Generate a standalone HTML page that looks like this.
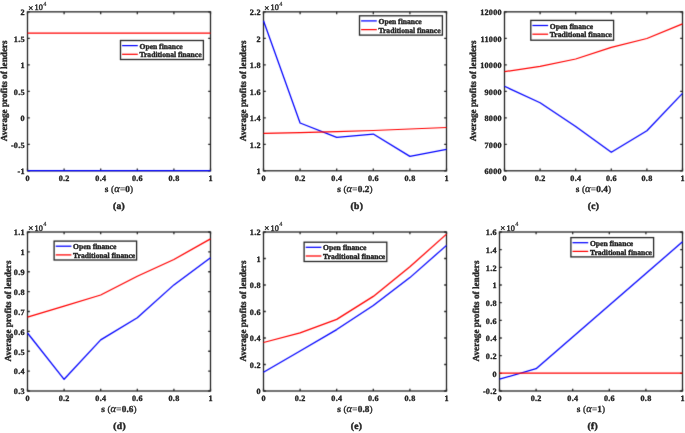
<!DOCTYPE html>
<html><head><meta charset="utf-8"><style>
html,body{margin:0;padding:0;background:#fff;}
svg{display:block;font-family:"Liberation Serif", serif;will-change:transform;text-rendering:geometricPrecision;}
text{fill:#262626;stroke:#262626;stroke-width:0.35px;}
</style></head><body>
<svg width="685" height="433" viewBox="0 0 685 433">
<rect width="685" height="433" fill="#fff"/>
<defs><filter id="sm" x="0" y="0" width="685" height="433" filterUnits="userSpaceOnUse" color-interpolation-filters="sRGB"><feConvolveMatrix order="3" kernelMatrix="0 0.1 0 0.1 0.600 0.1 0 0.1 0" edgeMode="none" preserveAlpha="false"/></filter></defs>
<g filter="url(#sm)">
<rect x="27.5" y="11.85" width="183.00" height="158.95" fill="none" stroke="#262626" stroke-width="1.3"/>
<path d="M27.50,170.8v-2.3M27.50,11.85v2.3M64.10,170.8v-2.3M64.10,11.85v2.3M100.70,170.8v-2.3M100.70,11.85v2.3M137.30,170.8v-2.3M137.30,11.85v2.3M173.90,170.8v-2.3M173.90,11.85v2.3M210.50,170.8v-2.3M210.50,11.85v2.3M27.5,170.80h2.3M210.5,170.80h-2.3M27.5,144.31h2.3M210.5,144.31h-2.3M27.5,117.82h2.3M210.5,117.82h-2.3M27.5,91.33h2.3M210.5,91.33h-2.3M27.5,64.83h2.3M210.5,64.83h-2.3M27.5,38.34h2.3M210.5,38.34h-2.3M27.5,11.85h2.3M210.5,11.85h-2.3" stroke="#262626" stroke-width="1.3" fill="none"/>
<polyline points="27.50,170.70 64.10,170.70 100.70,170.70 137.30,170.70 173.90,170.70 210.50,170.70" fill="none" stroke="#0000ff" stroke-width="1.25" stroke-linejoin="round"/>
<polyline points="27.50,33.00 64.10,33.00 100.70,33.00 137.30,33.00 173.90,33.00 210.50,33.00" fill="none" stroke="#ff0000" stroke-width="1.25" stroke-linejoin="round"/>
<rect x="120.5" y="40.5" width="82.90" height="19.00" fill="#fff" stroke="#262626" stroke-width="1.3"/>
<path d="M122.10,45.60H137.80" stroke="#0000ff" stroke-width="1.25"/>
<path d="M122.10,54.30H137.80" stroke="#ff0000" stroke-width="1.25"/>
<rect x="263.5" y="11.85" width="183.00" height="158.95" fill="none" stroke="#262626" stroke-width="1.3"/>
<path d="M263.50,170.8v-2.3M263.50,11.85v2.3M300.10,170.8v-2.3M300.10,11.85v2.3M336.70,170.8v-2.3M336.70,11.85v2.3M373.30,170.8v-2.3M373.30,11.85v2.3M409.90,170.8v-2.3M409.90,11.85v2.3M446.50,170.8v-2.3M446.50,11.85v2.3M263.5,170.80h2.3M446.5,170.80h-2.3M263.5,144.31h2.3M446.5,144.31h-2.3M263.5,117.82h2.3M446.5,117.82h-2.3M263.5,91.33h2.3M446.5,91.33h-2.3M263.5,64.83h2.3M446.5,64.83h-2.3M263.5,38.34h2.3M446.5,38.34h-2.3M263.5,11.85h2.3M446.5,11.85h-2.3" stroke="#262626" stroke-width="1.3" fill="none"/>
<polyline points="263.50,20.80 300.10,123.00 336.70,137.30 373.30,134.05 409.90,156.40 446.50,149.40" fill="none" stroke="#0000ff" stroke-width="1.25" stroke-linejoin="round"/>
<polyline points="263.50,133.30 300.10,132.60 336.70,131.70 373.30,130.50 409.90,129.00 446.50,127.50" fill="none" stroke="#ff0000" stroke-width="1.25" stroke-linejoin="round"/>
<rect x="359.5" y="15.8" width="82.90" height="19.30" fill="#fff" stroke="#262626" stroke-width="1.3"/>
<path d="M361.10,20.90H376.80" stroke="#0000ff" stroke-width="1.25"/>
<path d="M361.10,29.60H376.80" stroke="#ff0000" stroke-width="1.25"/>
<rect x="504.5" y="11.85" width="178.00" height="158.95" fill="none" stroke="#262626" stroke-width="1.3"/>
<path d="M504.50,170.8v-2.3M504.50,11.85v2.3M540.10,170.8v-2.3M540.10,11.85v2.3M575.70,170.8v-2.3M575.70,11.85v2.3M611.30,170.8v-2.3M611.30,11.85v2.3M646.90,170.8v-2.3M646.90,11.85v2.3M682.50,170.8v-2.3M682.50,11.85v2.3M504.5,170.80h2.3M682.5,170.80h-2.3M504.5,144.31h2.3M682.5,144.31h-2.3M504.5,117.82h2.3M682.5,117.82h-2.3M504.5,91.33h2.3M682.5,91.33h-2.3M504.5,64.83h2.3M682.5,64.83h-2.3M504.5,38.34h2.3M682.5,38.34h-2.3M504.5,11.85h2.3M682.5,11.85h-2.3" stroke="#262626" stroke-width="1.3" fill="none"/>
<polyline points="504.50,86.30 540.10,102.80 575.70,126.50 611.30,152.30 646.90,130.70 682.50,93.40" fill="none" stroke="#0000ff" stroke-width="1.25" stroke-linejoin="round"/>
<polyline points="504.50,71.70 540.10,66.30 575.70,59.00 611.30,47.40 646.90,38.50 682.50,23.90" fill="none" stroke="#ff0000" stroke-width="1.25" stroke-linejoin="round"/>
<rect x="530.8" y="20.4" width="82.80" height="19.80" fill="#fff" stroke="#262626" stroke-width="1.3"/>
<path d="M532.40,25.50H548.10" stroke="#0000ff" stroke-width="1.25"/>
<path d="M532.40,34.20H548.10" stroke="#ff0000" stroke-width="1.25"/>
<rect x="27.5" y="232.0" width="183.00" height="159.00" fill="none" stroke="#262626" stroke-width="1.3"/>
<path d="M27.50,391.0v-2.3M27.50,232.0v2.3M64.10,391.0v-2.3M64.10,232.0v2.3M100.70,391.0v-2.3M100.70,232.0v2.3M137.30,391.0v-2.3M137.30,232.0v2.3M173.90,391.0v-2.3M173.90,232.0v2.3M210.50,391.0v-2.3M210.50,232.0v2.3M27.5,391.00h2.3M210.5,391.00h-2.3M27.5,371.12h2.3M210.5,371.12h-2.3M27.5,351.25h2.3M210.5,351.25h-2.3M27.5,331.38h2.3M210.5,331.38h-2.3M27.5,311.50h2.3M210.5,311.50h-2.3M27.5,291.62h2.3M210.5,291.62h-2.3M27.5,271.75h2.3M210.5,271.75h-2.3M27.5,251.88h2.3M210.5,251.88h-2.3M27.5,232.00h2.3M210.5,232.00h-2.3" stroke="#262626" stroke-width="1.3" fill="none"/>
<polyline points="27.50,333.00 64.10,379.30 100.70,339.90 137.30,317.70 173.90,284.90 210.50,257.70" fill="none" stroke="#0000ff" stroke-width="1.25" stroke-linejoin="round"/>
<polyline points="27.50,317.20 64.10,306.10 100.70,295.00 137.30,276.30 173.90,259.50 210.50,238.90" fill="none" stroke="#ff0000" stroke-width="1.25" stroke-linejoin="round"/>
<rect x="54.1" y="241.1" width="82.50" height="18.90" fill="#fff" stroke="#262626" stroke-width="1.3"/>
<path d="M55.70,246.20H71.40" stroke="#0000ff" stroke-width="1.25"/>
<path d="M55.70,254.90H71.40" stroke="#ff0000" stroke-width="1.25"/>
<rect x="263.5" y="232.0" width="183.00" height="159.00" fill="none" stroke="#262626" stroke-width="1.3"/>
<path d="M263.50,391.0v-2.3M263.50,232.0v2.3M300.10,391.0v-2.3M300.10,232.0v2.3M336.70,391.0v-2.3M336.70,232.0v2.3M373.30,391.0v-2.3M373.30,232.0v2.3M409.90,391.0v-2.3M409.90,232.0v2.3M446.50,391.0v-2.3M446.50,232.0v2.3M263.5,391.00h2.3M446.5,391.00h-2.3M263.5,364.50h2.3M446.5,364.50h-2.3M263.5,338.00h2.3M446.5,338.00h-2.3M263.5,311.50h2.3M446.5,311.50h-2.3M263.5,285.00h2.3M446.5,285.00h-2.3M263.5,258.50h2.3M446.5,258.50h-2.3M263.5,232.00h2.3M446.5,232.00h-2.3" stroke="#262626" stroke-width="1.3" fill="none"/>
<polyline points="263.50,372.30 300.10,351.00 336.70,329.60 373.30,305.50 409.90,277.60 446.50,245.40" fill="none" stroke="#0000ff" stroke-width="1.25" stroke-linejoin="round"/>
<polyline points="263.50,342.50 300.10,332.90 336.70,319.40 373.30,296.40 409.90,266.80 446.50,234.10" fill="none" stroke="#ff0000" stroke-width="1.25" stroke-linejoin="round"/>
<rect x="304.1" y="242.2" width="82.70" height="19.30" fill="#fff" stroke="#262626" stroke-width="1.3"/>
<path d="M305.70,247.30H321.40" stroke="#0000ff" stroke-width="1.25"/>
<path d="M305.70,256.00H321.40" stroke="#ff0000" stroke-width="1.25"/>
<rect x="499.5" y="232.0" width="183.00" height="159.00" fill="none" stroke="#262626" stroke-width="1.3"/>
<path d="M499.50,391.0v-2.3M499.50,232.0v2.3M536.10,391.0v-2.3M536.10,232.0v2.3M572.70,391.0v-2.3M572.70,232.0v2.3M609.30,391.0v-2.3M609.30,232.0v2.3M645.90,391.0v-2.3M645.90,232.0v2.3M682.50,391.0v-2.3M682.50,232.0v2.3M499.5,391.00h2.3M682.5,391.00h-2.3M499.5,373.33h2.3M682.5,373.33h-2.3M499.5,355.67h2.3M682.5,355.67h-2.3M499.5,338.00h2.3M682.5,338.00h-2.3M499.5,320.33h2.3M682.5,320.33h-2.3M499.5,302.67h2.3M682.5,302.67h-2.3M499.5,285.00h2.3M682.5,285.00h-2.3M499.5,267.33h2.3M682.5,267.33h-2.3M499.5,249.67h2.3M682.5,249.67h-2.3M499.5,232.00h2.3M682.5,232.00h-2.3" stroke="#262626" stroke-width="1.3" fill="none"/>
<polyline points="499.50,379.20 536.10,368.70 572.70,337.00 609.30,305.30 645.90,273.50 682.50,241.80" fill="none" stroke="#0000ff" stroke-width="1.25" stroke-linejoin="round"/>
<polyline points="499.50,373.20 536.10,373.20 572.70,373.20 609.30,373.20 645.90,373.20 682.50,373.20" fill="none" stroke="#ff0000" stroke-width="1.25" stroke-linejoin="round"/>
<rect x="570.9" y="237.6" width="82.70" height="19.30" fill="#fff" stroke="#262626" stroke-width="1.3"/>
<path d="M572.50,242.70H588.20" stroke="#0000ff" stroke-width="1.25"/>
<path d="M572.50,251.40H588.20" stroke="#ff0000" stroke-width="1.25"/>
</g>
<text x="27.62" y="181.20" font-size="8.2" text-anchor="middle" font-weight="bold" letter-spacing="0.25">0</text>
<text x="64.22" y="181.20" font-size="8.2" text-anchor="middle" font-weight="bold" letter-spacing="0.25">0.2</text>
<text x="100.82" y="181.20" font-size="8.2" text-anchor="middle" font-weight="bold" letter-spacing="0.25">0.4</text>
<text x="137.42" y="181.20" font-size="8.2" text-anchor="middle" font-weight="bold" letter-spacing="0.25">0.6</text>
<text x="174.02" y="181.20" font-size="8.2" text-anchor="middle" font-weight="bold" letter-spacing="0.25">0.8</text>
<text x="210.62" y="181.20" font-size="8.2" text-anchor="middle" font-weight="bold" letter-spacing="0.25">1</text>
<text x="24.85" y="174.10" font-size="8.2" text-anchor="end" font-weight="bold" letter-spacing="0.25">-1</text>
<text x="24.85" y="147.61" font-size="8.2" text-anchor="end" font-weight="bold" letter-spacing="0.25">-0.5</text>
<text x="24.85" y="121.12" font-size="8.2" text-anchor="end" font-weight="bold" letter-spacing="0.25">0</text>
<text x="24.85" y="94.62" font-size="8.2" text-anchor="end" font-weight="bold" letter-spacing="0.25">0.5</text>
<text x="24.85" y="68.13" font-size="8.2" text-anchor="end" font-weight="bold" letter-spacing="0.25">1</text>
<text x="24.85" y="41.64" font-size="8.2" text-anchor="end" font-weight="bold" letter-spacing="0.25">1.5</text>
<text x="24.85" y="15.15" font-size="8.2" text-anchor="end" font-weight="bold" letter-spacing="0.25">2</text>
<text x="28.20" y="10.65" font-size="8.9" font-weight="normal" style="stroke-width:0.45px">×</text>
<text x="34.50" y="10.45" font-size="8.3" font-weight="normal" style="stroke-width:0.45px">10</text>
<text x="43.30" y="5.95" font-size="6.2" font-weight="normal" style="stroke-width:0.15px">4</text>
<text transform="translate(7.00,90.83) rotate(-90)" x="0" y="0" font-size="9.2" text-anchor="middle" font-weight="bold">Average profits of lenders</text>
<text x="119.00" y="192.20" font-size="9.2" text-anchor="middle" font-weight="bold" letter-spacing="0.15">s <tspan font-weight="normal">(</tspan><tspan font-style="italic" font-weight="normal" font-size="10.6">α</tspan><tspan font-weight="normal" style="stroke-width:0.2px">=</tspan>0<tspan font-weight="normal">)</tspan></text>
<text x="119.10" y="208.50" font-size="9.5" text-anchor="middle" font-weight="bold" letter-spacing="0.3" style="stroke-width:0.5px">(a)</text>
<text x="139.50" y="48.70" font-size="7.6" text-anchor="start" font-weight="bold" style="stroke-width:0.4px">Open finance</text>
<text x="139.50" y="57.45" font-size="7.6" text-anchor="start" font-weight="bold" style="stroke-width:0.4px">Traditional finance</text>
<text x="263.62" y="181.20" font-size="8.2" text-anchor="middle" font-weight="bold" letter-spacing="0.25">0</text>
<text x="300.22" y="181.20" font-size="8.2" text-anchor="middle" font-weight="bold" letter-spacing="0.25">0.2</text>
<text x="336.82" y="181.20" font-size="8.2" text-anchor="middle" font-weight="bold" letter-spacing="0.25">0.4</text>
<text x="373.42" y="181.20" font-size="8.2" text-anchor="middle" font-weight="bold" letter-spacing="0.25">0.6</text>
<text x="410.02" y="181.20" font-size="8.2" text-anchor="middle" font-weight="bold" letter-spacing="0.25">0.8</text>
<text x="446.62" y="181.20" font-size="8.2" text-anchor="middle" font-weight="bold" letter-spacing="0.25">1</text>
<text x="260.85" y="174.10" font-size="8.2" text-anchor="end" font-weight="bold" letter-spacing="0.25">1</text>
<text x="260.85" y="147.61" font-size="8.2" text-anchor="end" font-weight="bold" letter-spacing="0.25">1.2</text>
<text x="260.85" y="121.12" font-size="8.2" text-anchor="end" font-weight="bold" letter-spacing="0.25">1.4</text>
<text x="260.85" y="94.62" font-size="8.2" text-anchor="end" font-weight="bold" letter-spacing="0.25">1.6</text>
<text x="260.85" y="68.13" font-size="8.2" text-anchor="end" font-weight="bold" letter-spacing="0.25">1.8</text>
<text x="260.85" y="41.64" font-size="8.2" text-anchor="end" font-weight="bold" letter-spacing="0.25">2</text>
<text x="260.85" y="15.15" font-size="8.2" text-anchor="end" font-weight="bold" letter-spacing="0.25">2.2</text>
<text x="264.20" y="10.65" font-size="8.9" font-weight="normal" style="stroke-width:0.45px">×</text>
<text x="270.50" y="10.45" font-size="8.3" font-weight="normal" style="stroke-width:0.45px">10</text>
<text x="279.30" y="5.95" font-size="6.2" font-weight="normal" style="stroke-width:0.15px">4</text>
<text transform="translate(246.40,90.83) rotate(-90)" x="0" y="0" font-size="9.2" text-anchor="middle" font-weight="bold">Average profits of lenders</text>
<text x="355.00" y="192.20" font-size="9.2" text-anchor="middle" font-weight="bold" letter-spacing="0.15">s <tspan font-weight="normal">(</tspan><tspan font-style="italic" font-weight="normal" font-size="10.6">α</tspan><tspan font-weight="normal" style="stroke-width:0.2px">=</tspan>0.2<tspan font-weight="normal">)</tspan></text>
<text x="356.85" y="208.50" font-size="9.5" text-anchor="middle" font-weight="bold" letter-spacing="0.3" style="stroke-width:0.5px">(b)</text>
<text x="378.50" y="24.00" font-size="7.6" text-anchor="start" font-weight="bold" style="stroke-width:0.4px">Open finance</text>
<text x="378.50" y="32.75" font-size="7.6" text-anchor="start" font-weight="bold" style="stroke-width:0.4px">Traditional finance</text>
<text x="504.62" y="181.20" font-size="8.2" text-anchor="middle" font-weight="bold" letter-spacing="0.25">0</text>
<text x="540.22" y="181.20" font-size="8.2" text-anchor="middle" font-weight="bold" letter-spacing="0.25">0.2</text>
<text x="575.82" y="181.20" font-size="8.2" text-anchor="middle" font-weight="bold" letter-spacing="0.25">0.4</text>
<text x="611.42" y="181.20" font-size="8.2" text-anchor="middle" font-weight="bold" letter-spacing="0.25">0.6</text>
<text x="647.02" y="181.20" font-size="8.2" text-anchor="middle" font-weight="bold" letter-spacing="0.25">0.8</text>
<text x="682.62" y="181.20" font-size="8.2" text-anchor="middle" font-weight="bold" letter-spacing="0.25">1</text>
<text x="501.85" y="174.10" font-size="8.2" text-anchor="end" font-weight="bold" letter-spacing="0.25">6000</text>
<text x="501.85" y="147.61" font-size="8.2" text-anchor="end" font-weight="bold" letter-spacing="0.25">7000</text>
<text x="501.85" y="121.12" font-size="8.2" text-anchor="end" font-weight="bold" letter-spacing="0.25">8000</text>
<text x="501.85" y="94.62" font-size="8.2" text-anchor="end" font-weight="bold" letter-spacing="0.25">9000</text>
<text x="501.85" y="68.13" font-size="8.2" text-anchor="end" font-weight="bold" letter-spacing="0.25">10000</text>
<text x="501.85" y="41.64" font-size="8.2" text-anchor="end" font-weight="bold" letter-spacing="0.25">11000</text>
<text x="501.85" y="15.15" font-size="8.2" text-anchor="end" font-weight="bold" letter-spacing="0.25">12000</text>
<text transform="translate(475.60,90.83) rotate(-90)" x="0" y="0" font-size="9.2" text-anchor="middle" font-weight="bold">Average profits of lenders</text>
<text x="593.50" y="192.20" font-size="9.2" text-anchor="middle" font-weight="bold" letter-spacing="0.15">s <tspan font-weight="normal">(</tspan><tspan font-style="italic" font-weight="normal" font-size="10.6">α</tspan><tspan font-weight="normal" style="stroke-width:0.2px">=</tspan>0.4<tspan font-weight="normal">)</tspan></text>
<text x="593.60" y="208.50" font-size="9.5" text-anchor="middle" font-weight="bold" letter-spacing="0.3" style="stroke-width:0.5px">(c)</text>
<text x="549.80" y="28.60" font-size="7.6" text-anchor="start" font-weight="bold" style="stroke-width:0.4px">Open finance</text>
<text x="549.80" y="37.35" font-size="7.6" text-anchor="start" font-weight="bold" style="stroke-width:0.4px">Traditional finance</text>
<text x="27.62" y="401.40" font-size="8.2" text-anchor="middle" font-weight="bold" letter-spacing="0.25">0</text>
<text x="64.22" y="401.40" font-size="8.2" text-anchor="middle" font-weight="bold" letter-spacing="0.25">0.2</text>
<text x="100.82" y="401.40" font-size="8.2" text-anchor="middle" font-weight="bold" letter-spacing="0.25">0.4</text>
<text x="137.42" y="401.40" font-size="8.2" text-anchor="middle" font-weight="bold" letter-spacing="0.25">0.6</text>
<text x="174.02" y="401.40" font-size="8.2" text-anchor="middle" font-weight="bold" letter-spacing="0.25">0.8</text>
<text x="210.62" y="401.40" font-size="8.2" text-anchor="middle" font-weight="bold" letter-spacing="0.25">1</text>
<text x="24.85" y="394.30" font-size="8.2" text-anchor="end" font-weight="bold" letter-spacing="0.25">0.3</text>
<text x="24.85" y="374.43" font-size="8.2" text-anchor="end" font-weight="bold" letter-spacing="0.25">0.4</text>
<text x="24.85" y="354.55" font-size="8.2" text-anchor="end" font-weight="bold" letter-spacing="0.25">0.5</text>
<text x="24.85" y="334.68" font-size="8.2" text-anchor="end" font-weight="bold" letter-spacing="0.25">0.6</text>
<text x="24.85" y="314.80" font-size="8.2" text-anchor="end" font-weight="bold" letter-spacing="0.25">0.7</text>
<text x="24.85" y="294.93" font-size="8.2" text-anchor="end" font-weight="bold" letter-spacing="0.25">0.8</text>
<text x="24.85" y="275.05" font-size="8.2" text-anchor="end" font-weight="bold" letter-spacing="0.25">0.9</text>
<text x="24.85" y="255.18" font-size="8.2" text-anchor="end" font-weight="bold" letter-spacing="0.25">1</text>
<text x="24.85" y="235.30" font-size="8.2" text-anchor="end" font-weight="bold" letter-spacing="0.25">1.1</text>
<text x="28.20" y="230.80" font-size="8.9" font-weight="normal" style="stroke-width:0.45px">×</text>
<text x="34.50" y="230.60" font-size="8.3" font-weight="normal" style="stroke-width:0.45px">10</text>
<text x="43.30" y="226.10" font-size="6.2" font-weight="normal" style="stroke-width:0.15px">4</text>
<text transform="translate(11.00,311.00) rotate(-90)" x="0" y="0" font-size="9.2" text-anchor="middle" font-weight="bold">Average profits of lenders</text>
<text x="119.00" y="412.40" font-size="9.2" text-anchor="middle" font-weight="bold" letter-spacing="0.15">s <tspan font-weight="normal">(</tspan><tspan font-style="italic" font-weight="normal" font-size="10.6">α</tspan><tspan font-weight="normal" style="stroke-width:0.2px">=</tspan>0.6<tspan font-weight="normal">)</tspan></text>
<text x="119.60" y="428.70" font-size="9.5" text-anchor="middle" font-weight="bold" letter-spacing="0.3" style="stroke-width:0.5px">(d)</text>
<text x="73.10" y="249.30" font-size="7.6" text-anchor="start" font-weight="bold" style="stroke-width:0.4px">Open finance</text>
<text x="73.10" y="258.05" font-size="7.6" text-anchor="start" font-weight="bold" style="stroke-width:0.4px">Traditional finance</text>
<text x="263.62" y="401.40" font-size="8.2" text-anchor="middle" font-weight="bold" letter-spacing="0.25">0</text>
<text x="300.22" y="401.40" font-size="8.2" text-anchor="middle" font-weight="bold" letter-spacing="0.25">0.2</text>
<text x="336.82" y="401.40" font-size="8.2" text-anchor="middle" font-weight="bold" letter-spacing="0.25">0.4</text>
<text x="373.42" y="401.40" font-size="8.2" text-anchor="middle" font-weight="bold" letter-spacing="0.25">0.6</text>
<text x="410.02" y="401.40" font-size="8.2" text-anchor="middle" font-weight="bold" letter-spacing="0.25">0.8</text>
<text x="446.62" y="401.40" font-size="8.2" text-anchor="middle" font-weight="bold" letter-spacing="0.25">1</text>
<text x="260.85" y="394.30" font-size="8.2" text-anchor="end" font-weight="bold" letter-spacing="0.25">0</text>
<text x="260.85" y="367.80" font-size="8.2" text-anchor="end" font-weight="bold" letter-spacing="0.25">0.2</text>
<text x="260.85" y="341.30" font-size="8.2" text-anchor="end" font-weight="bold" letter-spacing="0.25">0.4</text>
<text x="260.85" y="314.80" font-size="8.2" text-anchor="end" font-weight="bold" letter-spacing="0.25">0.6</text>
<text x="260.85" y="288.30" font-size="8.2" text-anchor="end" font-weight="bold" letter-spacing="0.25">0.8</text>
<text x="260.85" y="261.80" font-size="8.2" text-anchor="end" font-weight="bold" letter-spacing="0.25">1</text>
<text x="260.85" y="235.30" font-size="8.2" text-anchor="end" font-weight="bold" letter-spacing="0.25">1.2</text>
<text x="264.20" y="230.80" font-size="8.9" font-weight="normal" style="stroke-width:0.45px">×</text>
<text x="270.50" y="230.60" font-size="8.3" font-weight="normal" style="stroke-width:0.45px">10</text>
<text x="279.30" y="226.10" font-size="6.2" font-weight="normal" style="stroke-width:0.15px">4</text>
<text transform="translate(245.60,311.00) rotate(-90)" x="0" y="0" font-size="9.2" text-anchor="middle" font-weight="bold">Average profits of lenders</text>
<text x="355.00" y="412.40" font-size="9.2" text-anchor="middle" font-weight="bold" letter-spacing="0.15">s <tspan font-weight="normal">(</tspan><tspan font-style="italic" font-weight="normal" font-size="10.6">α</tspan><tspan font-weight="normal" style="stroke-width:0.2px">=</tspan>0.8<tspan font-weight="normal">)</tspan></text>
<text x="356.60" y="428.70" font-size="9.5" text-anchor="middle" font-weight="bold" letter-spacing="0.3" style="stroke-width:0.5px">(e)</text>
<text x="323.10" y="250.40" font-size="7.6" text-anchor="start" font-weight="bold" style="stroke-width:0.4px">Open finance</text>
<text x="323.10" y="259.15" font-size="7.6" text-anchor="start" font-weight="bold" style="stroke-width:0.4px">Traditional finance</text>
<text x="499.62" y="401.40" font-size="8.2" text-anchor="middle" font-weight="bold" letter-spacing="0.25">0</text>
<text x="536.22" y="401.40" font-size="8.2" text-anchor="middle" font-weight="bold" letter-spacing="0.25">0.2</text>
<text x="572.82" y="401.40" font-size="8.2" text-anchor="middle" font-weight="bold" letter-spacing="0.25">0.4</text>
<text x="609.42" y="401.40" font-size="8.2" text-anchor="middle" font-weight="bold" letter-spacing="0.25">0.6</text>
<text x="646.02" y="401.40" font-size="8.2" text-anchor="middle" font-weight="bold" letter-spacing="0.25">0.8</text>
<text x="682.62" y="401.40" font-size="8.2" text-anchor="middle" font-weight="bold" letter-spacing="0.25">1</text>
<text x="496.85" y="394.30" font-size="8.2" text-anchor="end" font-weight="bold" letter-spacing="0.25">-0.2</text>
<text x="496.85" y="376.63" font-size="8.2" text-anchor="end" font-weight="bold" letter-spacing="0.25">0</text>
<text x="496.85" y="358.97" font-size="8.2" text-anchor="end" font-weight="bold" letter-spacing="0.25">0.2</text>
<text x="496.85" y="341.30" font-size="8.2" text-anchor="end" font-weight="bold" letter-spacing="0.25">0.4</text>
<text x="496.85" y="323.63" font-size="8.2" text-anchor="end" font-weight="bold" letter-spacing="0.25">0.6</text>
<text x="496.85" y="305.97" font-size="8.2" text-anchor="end" font-weight="bold" letter-spacing="0.25">0.8</text>
<text x="496.85" y="288.30" font-size="8.2" text-anchor="end" font-weight="bold" letter-spacing="0.25">1</text>
<text x="496.85" y="270.63" font-size="8.2" text-anchor="end" font-weight="bold" letter-spacing="0.25">1.2</text>
<text x="496.85" y="252.97" font-size="8.2" text-anchor="end" font-weight="bold" letter-spacing="0.25">1.4</text>
<text x="496.85" y="235.30" font-size="8.2" text-anchor="end" font-weight="bold" letter-spacing="0.25">1.6</text>
<text x="500.20" y="230.80" font-size="8.9" font-weight="normal" style="stroke-width:0.45px">×</text>
<text x="506.50" y="230.60" font-size="8.3" font-weight="normal" style="stroke-width:0.45px">10</text>
<text x="515.30" y="226.10" font-size="6.2" font-weight="normal" style="stroke-width:0.15px">4</text>
<text transform="translate(479.30,311.00) rotate(-90)" x="0" y="0" font-size="9.2" text-anchor="middle" font-weight="bold">Average profits of lenders</text>
<text x="591.00" y="412.40" font-size="9.2" text-anchor="middle" font-weight="bold" letter-spacing="0.15">s <tspan font-weight="normal">(</tspan><tspan font-style="italic" font-weight="normal" font-size="10.6">α</tspan><tspan font-weight="normal" style="stroke-width:0.2px">=</tspan>1<tspan font-weight="normal">)</tspan></text>
<text x="592.80" y="428.70" font-size="9.5" text-anchor="middle" font-weight="bold" letter-spacing="0.3" style="stroke-width:0.5px">(f)</text>
<text x="589.90" y="245.80" font-size="7.6" text-anchor="start" font-weight="bold" style="stroke-width:0.4px">Open finance</text>
<text x="589.90" y="254.55" font-size="7.6" text-anchor="start" font-weight="bold" style="stroke-width:0.4px">Traditional finance</text>
</svg>
</body></html>
